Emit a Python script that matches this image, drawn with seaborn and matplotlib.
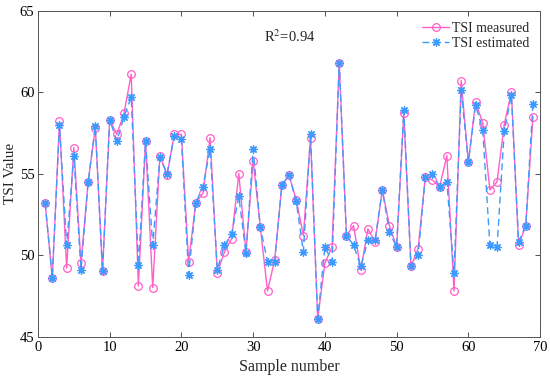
import numpy as np
import pandas as pd
import matplotlib
matplotlib.use("Agg")
import matplotlib.pyplot as plt
import seaborn as sns

samples = np.arange(1, 70)

tsi_measured = [53.2, 48.6, 58.2, 49.2, 56.6, 49.5, 54.5, 57.8, 49.0, 58.3,
                57.4, 58.7, 61.1, 48.1, 57.0, 48.0, 56.1, 54.9, 57.4, 57.4,
                49.6, 53.2, 53.8, 57.2, 48.9, 50.2, 51.0, 55.0, 50.2, 55.8,
                51.7, 47.8, 49.7, 54.3, 54.9, 53.4, 51.2, 57.2, 46.1, 49.5,
                50.5, 61.8, 51.2, 51.8, 49.1, 51.6, 50.8, 54.0, 51.8, 50.5,
                58.7, 49.3, 50.4, 54.8, 54.6, 54.2, 56.1, 47.8, 60.7, 55.7,
                59.4, 58.1, 54.0, 54.5, 58.0, 60.0, 50.6, 51.8, 58.5]

tsi_estimated = [53.2, 48.6, 58.0, 50.6, 56.1, 49.1, 54.5, 57.9, 49.0, 58.3,
                 57.0, 58.5, 59.7, 49.4, 57.0, 50.6, 56.0, 55.0, 57.3, 57.1,
                 48.8, 53.2, 54.2, 56.5, 49.1, 50.6, 51.3, 53.6, 50.1, 56.5,
                 51.7, 49.6, 49.6, 54.3, 54.9, 53.3, 50.2, 57.4, 46.1, 50.5,
                 49.6, 61.8, 51.2, 50.6, 49.3, 50.9, 50.9, 54.0, 51.4, 50.5,
                 58.9, 49.3, 50.0, 54.8, 55.0, 54.2, 54.5, 48.9, 60.1, 55.7,
                 59.2, 57.7, 50.6, 50.5, 57.6, 59.8, 50.8, 51.8, 59.3]

df = pd.DataFrame({"sample": samples,
                   "measured": tsi_measured,
                   "estimated": tsi_estimated})

sns.set_style("ticks")
plt.rcParams["font.family"] = ["Liberation Serif", "DejaVu Serif"]
plt.rcParams["mathtext.fontset"] = "stix"

fig = plt.figure(figsize=(5.5, 3.79), dpi=100)
ax = fig.add_axes([0.069, 0.112, 0.913, 0.86])

pink = "#ff5fc8"
blue = "#3d9bff"

sns.lineplot(data=df, x="sample", y="measured", ax=ax, color=pink,
             linewidth=1.0, marker="o", markersize=5.5,
             markerfacecolor="none", markeredgecolor=pink,
             markeredgewidth=0.9, label="TSI measured")
sns.lineplot(data=df, x="sample", y="estimated", ax=ax, color=blue,
             linewidth=1.0, linestyle=(0, (5, 3)), marker=(8, 2, 0),
             markersize=6, markeredgecolor=blue, markeredgewidth=0.9,
             label="TSI estimated")

ax.set_xlim(0, 70)
ax.set_ylim(45, 65)
ax.set_xticks(range(0, 71, 10))
ax.set_yticks(range(45, 66, 5))
ax.set_xlabel("Sample number", fontsize=11.5, labelpad=3)
ax.set_ylabel("TSI Value", fontsize=11, labelpad=2)
ax.tick_params(direction="in", length=3.5, width=0.6, labelsize=10.5,
               top=True, right=True, colors="#333333", labelcolor="black")
ax.tick_params(axis="y", pad=2.5)
for s in ax.spines.values():
    s.set_linewidth(0.7)
    s.set_color("#555555")

ax.text(31.5, 63.4, "R$^2$=0.94", fontsize=10.5, ha="left", va="center")

leg = ax.legend(loc="upper right", frameon=False, fontsize=10,
                handlelength=1.9, handletextpad=0.2, labelspacing=0.15,
                borderaxespad=0.4)

fig.savefig("out.png", dpi=100)
